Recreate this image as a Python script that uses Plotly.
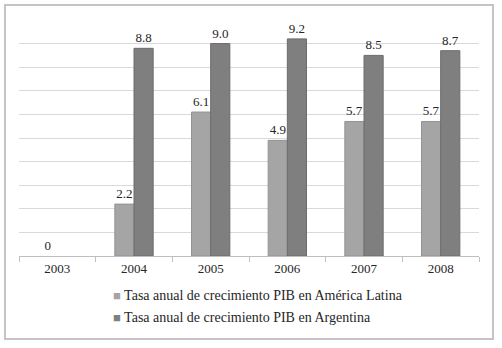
import plotly.graph_objects as go

years = ["2003", "2004", "2005", "2006", "2007", "2008"]
america_latina = [0, 2.2, 6.1, 4.9, 5.7, 5.7]
argentina = [None, 8.8, 9.0, 9.2, 8.5, 8.7]

series_names = [
    "Tasa anual de crecimiento PIB en América Latina",
    "Tasa anual de crecimiento PIB en Argentina",
]
series_colors = ["#a5a5a5", "#7f7f7f"]
edge_colors = ["#939393", "#6c6c6c"]

FONT = "Liberation Serif"
TXT = "#262626"
W, H = 502, 348
ML, MR, MT, MB = 19, 23, 20, 92
pw, ph = W - ML - MR, H - MT - MB


def px_x(x):
    return (x - ML) / pw


def px_y(y):
    return (H - MB - y) / ph


def labels(vals):
    return ["" if v is None else (f"{v:.1f}" if v != 0 else "0") for v in vals]


def edge_widths(vals):
    return [0 if not v else 1 for v in vals]


fig = go.Figure()
for name, vals, col, edge in zip(series_names, [america_latina, argentina],
                                 series_colors, edge_colors):
    fig.add_trace(go.Bar(
        x=years, y=vals, name=name, showlegend=False,
        marker=dict(color=col, line=dict(color=edge, width=edge_widths(vals))),
        text=labels(vals), textposition="outside", cliponaxis=False,
        textfont=dict(family=FONT, size=13, color=TXT),
    ))

# legend entries: coloured square followed by the series name
for i, (name, col) in enumerate(zip(series_names, series_colors)):
    fig.add_annotation(
        xref="paper", yref="paper", x=px_x(111), y=px_y(295 + 22.5 * i),
        xanchor="left", yanchor="middle", showarrow=False,
        text=f"<span style='color:{col};font-size:13px'>■</span> {name}",
        font=dict(family=FONT, size=14, color=TXT),
    )

# outer frame of the chart
fig.add_shape(type="rect", xref="paper", yref="paper",
              x0=px_x(5), x1=px_x(493), y0=px_y(339), y1=px_y(5),
              line=dict(color="#c4c4c4", width=2), fillcolor="rgba(0,0,0,0)",
              layer="below")

fig.update_layout(
    width=W, height=H,
    margin=dict(l=ML, r=MR, t=MT, b=MB),
    paper_bgcolor="white", plot_bgcolor="rgba(0,0,0,0)",
    barmode="group", bargap=0.5, bargroupgap=0,
    font=dict(family=FONT, size=13, color=TXT),
    showlegend=False,
    xaxis=dict(
        type="category", tickson="boundaries", ticks="outside", ticklen=5,
        tickcolor="#bfbfbf", showline=True, linecolor="#bfbfbf", linewidth=1,
        showgrid=False, tickfont=dict(family=FONT, size=13, color=TXT),
    ),
    yaxis=dict(
        range=[0, 10], dtick=1, showticklabels=False, showgrid=True,
        gridcolor="#d9d9d9", gridwidth=1, zeroline=False, showline=False,
        ticks="",
    ),
)

fig.write_html("out.html")
